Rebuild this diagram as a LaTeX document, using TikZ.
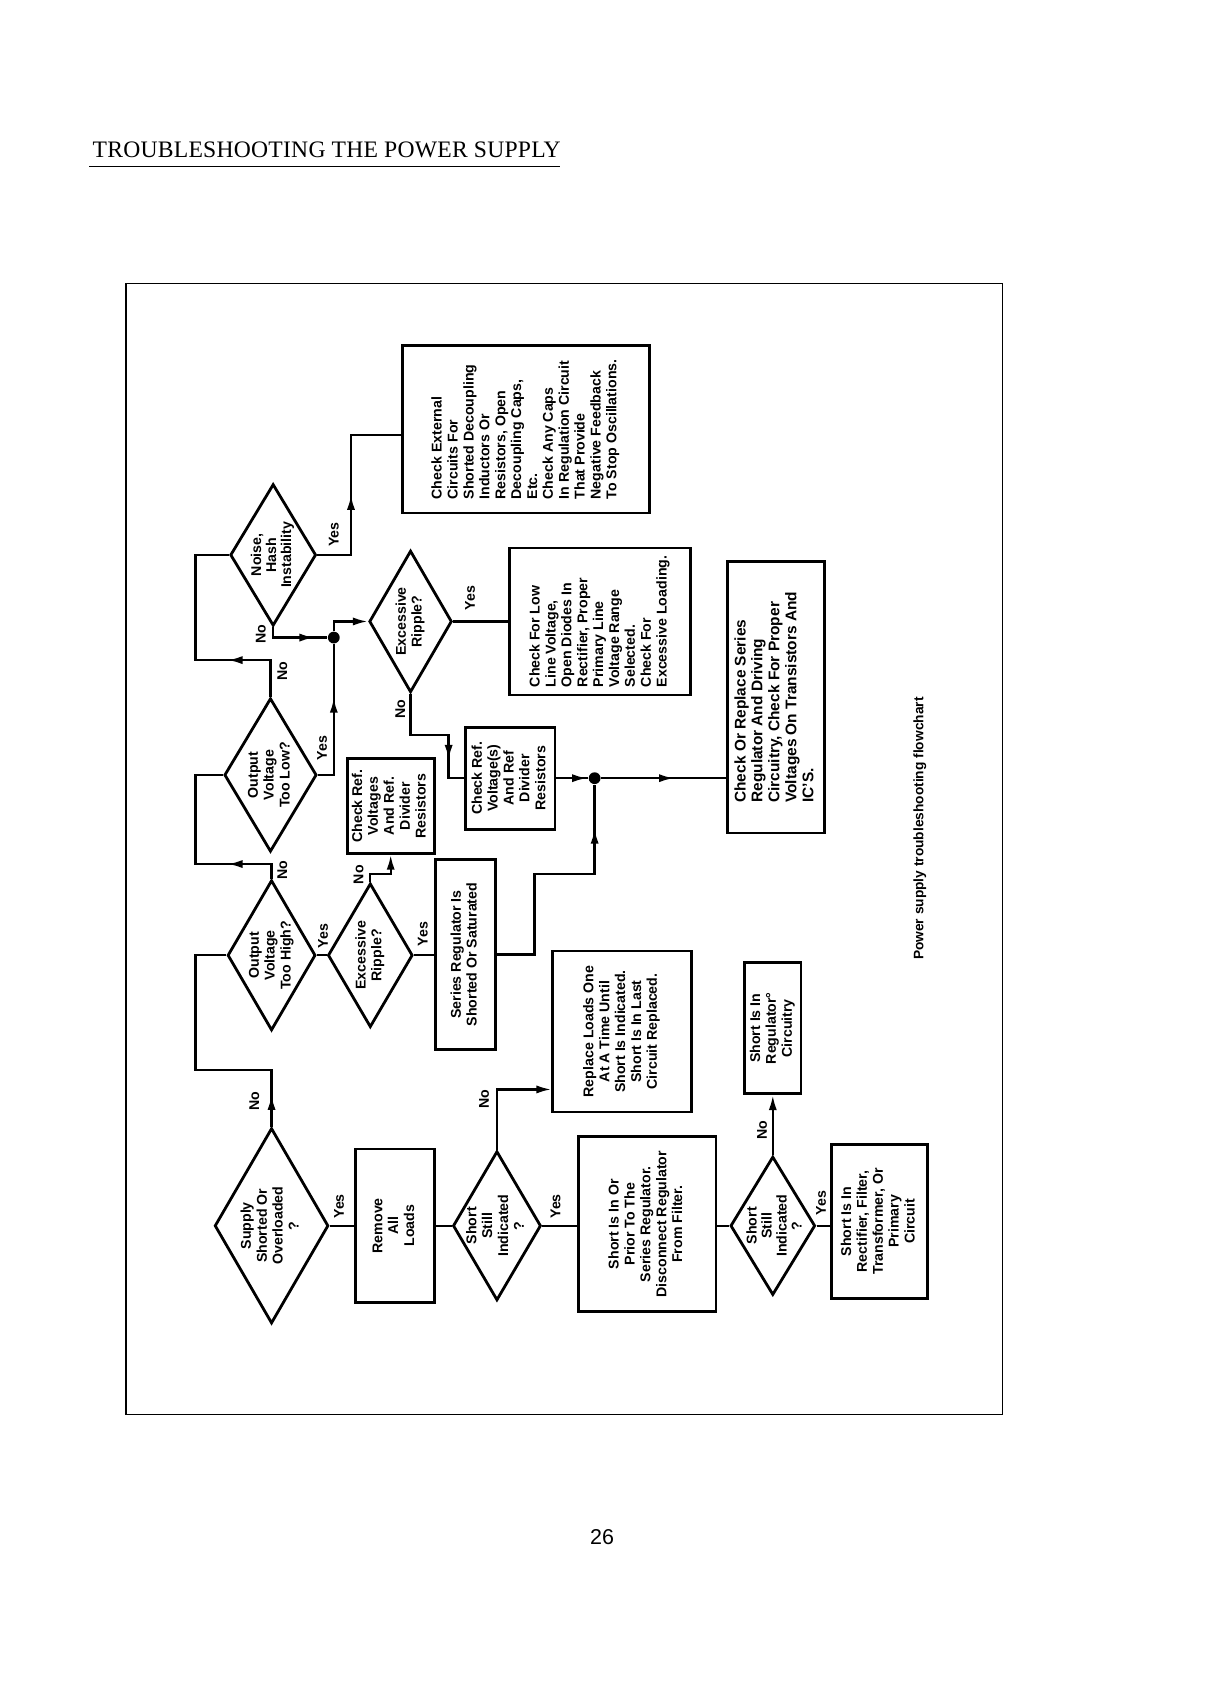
\documentclass[tikz,border=0pt]{standalone}
\usepackage{fontspec}
\setmainfont{Liberation Sans}
\newfontfamily\titlefont{Liberation Serif}[LetterSpace=1]
\usetikzlibrary{arrows.meta,shapes.geometric}

\newcommand{\vtext}[1]{\rotatebox{90}{\begin{tabular}{@{}c@{}}#1\end{tabular}}}
\newcommand{\vtextl}[1]{\rotatebox{90}{\begin{tabular}{@{}l@{}}#1\end{tabular}}}

\tikzset{
  box/.style={draw, line width=1.3pt, inner sep=0pt, align=center},
  dia/.style={draw, diamond, line width=1.3pt, inner sep=-10pt, aspect=0.6},
  flow/.style={line width=1.1pt},
  tip/.style={flow, -{Latex[length=7pt,width=3.8pt]}},
  yn/.style={rotate=90, inner sep=0pt},
  jdot/.style={circle, fill, inner sep=0pt, minimum size=5.5pt},
}

\begin{document}
\begin{tikzpicture}[x=0.5pt,y=-0.5pt,font=\bfseries\fontsize{6.6}{7.4}\selectfont]
  \useasboundingbox (0,0) rectangle (1140,1568);
  \node[anchor=base west, inner sep=0pt, font=\titlefont\fontsize{11}{13}\selectfont] (title) at (86,147) {TROUBLESHOOTING THE POWER SUPPLY};
  \draw[line width=0.8pt] (83,155) -- (522,155);
  \draw[line width=0.6pt] (117.5,264) rectangle (934,1318);

  \node[dia, minimum width=53pt, minimum height=91pt] (supply) at (253,1142) {\vtext{Supply\\Shorted Or\\Overloaded\\?}};
  \node[box, minimum width=37pt, minimum height=71.5pt] (remove) at (368,1142) {\vtext{Remove\\All\\Loads}};
  \node[dia, minimum width=41pt, minimum height=69.5pt] (still) at (463,1142) {\vtext{Short\\Still\\Indicated\\?}};
  \node[box, minimum width=64pt, minimum height=81.5pt] (prior) at (603,1140.5) {\vtext{Short Is In Or\\Prior To The\\Series Regulator.\\Disconnect Regulator\\From Filter.}};
  \node[dia, minimum width=39.5pt, minimum height=64.5pt, font=\bfseries\fontsize{6.6}{7}\selectfont] (stillb) at (720,1142) {\hspace{3pt}\vtext{Short\\Still\\Indicated\\?}};
  \node[box, minimum width=44.5pt, minimum height=72pt] (rectifier) at (819.5,1138) {\vtext{Short Is In\\Rectifier, Filter,\\Transformer, Or\\Primary\\Circuit}};
  \node[box, minimum width=26.25pt, minimum height=61pt] (regckt) at (720,958) {\vtext{Short Is In\\Regulator°\\Circuitry}};
  \node[box, minimum width=64.5pt, minimum height=75pt] (replace) at (579.5,961) {\vtext{Replace Loads One\\At A Time Until\\Short Is Indicated.\\Short Is In Last\\Circuit Replaced.}};
  \node[dia, minimum width=41pt, minimum height=70pt] (toohigh) at (253,890) {\vtext{Output\\Voltage\\Too High?}};
  \node[dia, minimum width=39.5pt, minimum height=67pt] (ripplea) at (345,890) {\vtext{Excessive\\Ripple?}};
  \node[box, minimum width=27.75pt, minimum height=88.75pt] (series) at (433.75,889.25) {\vtext{Series Regulator Is\\Shorted Or Saturated}};
  \node[box, minimum width=40.5pt, minimum height=44pt] (refa) at (364,751) {\vtext{Check Ref.\\Voltages\\And Ref.\\Divider\\Resistors}};
  \node[box, minimum width=41.5pt, minimum height=47.5pt] (refb) at (475.5,725) {\vtext{Check Ref.\\Voltage(s)\\And Ref\\Divider\\Resistors}};
  \node[jdot] (jb) at (554,725) {};
  \node[box, minimum width=45pt, minimum height=126.5pt, font=\bfseries\fontsize{7.2}{7.9}\selectfont] (replseries) at (723,649.5) {\vtextl{Check Or Replace Series\\Regulator And Driving\\Circuitry, Check For Proper\\Voltages On Transistors And\\IC'S.}};
  \node[dia, minimum width=43pt, minimum height=71.5pt] (toolow) at (252,722) {\vtext{Output\\Voltage\\Too Low?}};
  \node[dia, minimum width=40pt, minimum height=66pt, font=\bfseries\fontsize{6.6}{7}\selectfont] (noise) at (254.5,517) {\vtext{Noise,\\Hash\\Instability}};
  \node[jdot] (ja) at (311,594) {};
  \node[dia, minimum width=38.5pt, minimum height=66pt] (rippleb) at (382.5,579) {\vtext{Excessive\\Ripple?}};
  \node[box, minimum width=84pt, minimum height=68.5pt] (lowline) at (559,579) {\vtextl{Check For Low\\Line Voltage,\\Open Diodes In\\Rectifier, Proper\\Primary Line\\Voltage Range\\Selected.\\Check For\\Excessive Loading.}};
  \node[box, minimum width=115pt, minimum height=78pt] (external) at (490,400) {\vtextl{Check External\\Circuits For\\Shorted Decoupling\\Inductors Or\\Resistors, Open\\Decoupling Caps,\\Etc.\\Check Any Caps\\In Regulation Circuit\\That Provide\\Negative Feedback\\To Stop Oscillations.}};

  \node[yn] (no1) at (237,1026) {No};
  \node[yn] (yes1) at (316,1124) {Yes};
  \node[yn] (no2) at (451,1024) {No};
  \node[yn] (yes2) at (517.6,1124) {Yes};
  \node[yn] (no3) at (710,1053) {No};
  \node[yn] (yes3) at (765,1121) {Yes};
  \node[yn] (no4) at (263,811) {No};
  \node[yn] (yes4) at (301,872) {Yes};
  \node[yn] (no5) at (334,815) {No};
  \node[yn] (yes5) at (394,870) {Yes};
  \node[yn] (no6) at (263,625) {No};
  \node[yn] (yes6) at (300,697) {Yes};
  \node[yn] (no7) at (243,591) {No};
  \node[yn] (yes7) at (311,498) {Yes};
  \node[yn] (no8) at (373,661) {No};
  \node[yn] (yes8) at (438,557) {Yes};

  \draw[flow] (supply.north) |- (182,997) |- (toohigh.west);
  \draw[tip] (supply.north) -- (253,1020);
  \draw[flow] (supply.east) -- (remove.west);
  \draw[flow] (remove.east) -- (still.west);
  \draw[flow] (still.east) -- (still.east -| prior.west);
  \draw[tip] (still.north) |- ([yshift=-27pt]replace.west);
  \draw[flow] (stillb.west -| prior.east) -- (stillb.west);
  \draw[flow] (stillb.east) -- (stillb.east -| rectifier.west);
  \draw[tip] (stillb.north) -- (regckt.south);
  \draw[flow] (toohigh.north) |- (182,805) |- (toolow.west);
  \draw[tip] (toohigh.north) |- (212,805);
  \draw[flow] (toohigh.east) -- (ripplea.west);
  \draw[tip] (ripplea.north) |- (refa.south |- 0,814) -- (refa.south);
  \draw[flow] (ripplea.east) -- (ripplea.east -| series.west);
  \draw[flow] (series.east) -| (498,814) -| (jb);
  \draw[tip] (jb |- 0,814) -- (jb |- 0,772);
  \draw[flow] (refb.east) -- (jb);
  \draw[tip] (refb.east) -- (547,725);
  \draw[flow] (jb) -- (jb -| replseries.west);
  \draw[tip] (jb) -- (628,725);
  \draw[flow] (toolow.north) |- (182,615) |- (noise.west);
  \draw[tip] (toolow.north) |- (212,615);
  \draw[flow] (toolow.east) -| (ja);
  \draw[tip] (toolow.east) -| (311,650);
  \draw[flow] (noise.south) |- (ja);
  \draw[tip] (noise.south) |- (293,594);
  \draw[tip] (ja) |- (rippleb.west);
  \draw[flow] (noise.east) -| (327,405) -- (327,405 -| external.west);
  \draw[tip] (noise.east) -| (327,461);
  \draw[flow] (rippleb.east) -- (rippleb.east -| lowline.west);
  \draw[flow] (rippleb.south) |- (418,685) |- (refb.west);
  \draw[tip] (rippleb.south) |- (418,685) -- (418,708);

  \node[rotate=90, font=\bfseries\fontsize{6.4}{7.5}\selectfont] (caption) at (857,772) {Power supply troubleshooting flowchart};
  \node[font=\fontsize{10}{12}\selectfont] (page) at (561,1432) {26};
\end{tikzpicture}
\end{document}
